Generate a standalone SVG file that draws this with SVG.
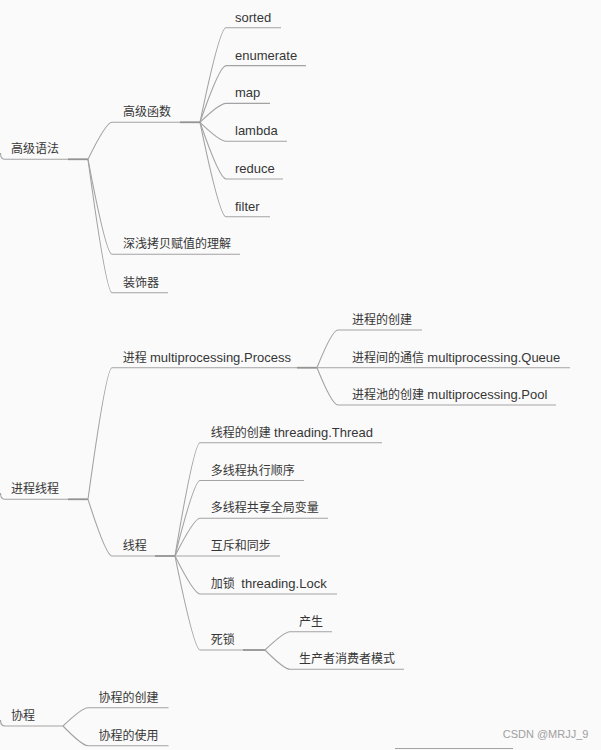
<svg xmlns="http://www.w3.org/2000/svg" width="601" height="750" viewBox="0 0 601 750">
<style>
  text { font-family: "Liberation Sans", "Noto Sans CJK SC", sans-serif; font-size: 12px; fill: #363636; white-space: pre; }
  .en { font-size: 13px; }
  .wm { font-size: 11px; fill: #a0a0a0; }
  .ln { fill: none; stroke: #a3a3a3; stroke-width: 1.1; }
  .th { fill: none; stroke: #939393; stroke-width: 1.7; }
</style>
<rect width="601" height="750" fill="#fafafa"/>
<g id="connectors">
  <!-- 高级语法 -->
  <path class="ln" d="M0.5,153 Q0.5,159.3 5,159.3 H88"/>
  <path class="th" d="M68,159.3 H88"/>
  <path class="ln" d="M88,159.3 Q106,122.3 112,122.3 H200"/>
  <path class="ln" d="M88,159.3 Q106,254.3 112,254.3 H240"/>
  <path class="ln" d="M88,159.3 Q106,292.7 112,292.7 H168"/>
  <path class="th" d="M180,122.3 H200"/>
  <path class="ln" d="M200,122.3 Q219.5,27.7 226,27.7 H281"/>
  <path class="ln" d="M200,122.3 Q219.5,65.6 226,65.6 H306"/>
  <path class="ln" d="M200,122.3 Q219.5,103.4 226,103.4 H270"/>
  <path class="ln" d="M200,122.3 Q219.5,141.2 226,141.2 H287"/>
  <path class="ln" d="M200,122.3 Q219.5,179 226,179 H283"/>
  <path class="ln" d="M200,122.3 Q219.5,216.8 226,216.8 H270"/>
  <!-- 进程线程 -->
  <path class="ln" d="M0.5,493 Q0.5,499.3 5,499.3 H88"/>
  <path class="th" d="M68,499.3 H88"/>
  <path class="ln" d="M88,499.3 Q106,367.7 112,367.7 H317"/>
  <path class="ln" d="M88,499.3 Q106,556 112,556 H175"/>
  <path class="th" d="M297,367.7 H317"/>
  <path class="ln" d="M317,367.7 Q332,330 338,330 H422"/>
  <path class="ln" d="M317,367.7 H570"/>
  <path class="ln" d="M317,367.7 Q332,405 338,405 H556"/>
  <path class="th" d="M155,556 H175"/>
  <path class="ln" d="M175,556 Q194,442.7 200,442.7 H382"/>
  <path class="ln" d="M175,556 Q194,480.5 200,480.5 H304"/>
  <path class="ln" d="M175,556 Q194,518.3 200,518.3 H328"/>
  <path class="ln" d="M175,556 H280"/>
  <path class="ln" d="M175,556 Q194,594 200,594 H337"/>
  <path class="ln" d="M175,556 Q194,650 200,650 H265"/>
  <path class="th" d="M243,650 H265"/>
  <path class="ln" d="M265,650 Q284,631.7 290,631.7 H332"/>
  <path class="ln" d="M265,650 Q284,669.3 290,669.3 H404"/>
  <!-- 协程 -->
  <path class="ln" d="M0.5,720 Q0.5,726 5,726 H63"/>
  <path class="ln" d="M63,726 Q82,707.7 88,707.7 H168.6"/>
  <path class="ln" d="M63,726 Q82,745.7 88,745.7 H168.6"/>
  <path class="ln" d="M395,748.5 H513"/>
</g>
<g id="n-gaojiyufa"><text x="11" y="153.3">高级语法</text></g>
<g id="n-gaojihanshu"><text x="123" y="116.3">高级函数</text></g>
<g id="n-sorted"><text class="en" x="235" y="21.7">sorted</text></g>
<g id="n-enumerate"><text class="en" x="235" y="59.6">enumerate</text></g>
<g id="n-map"><text class="en" x="235" y="97.4">map</text></g>
<g id="n-lambda"><text class="en" x="235" y="135.2">lambda</text></g>
<g id="n-reduce"><text class="en" x="235" y="173">reduce</text></g>
<g id="n-filter"><text class="en" x="235" y="210.8">filter</text></g>
<g id="n-copy"><text x="123" y="248.3">深浅拷贝赋值的理解</text></g>
<g id="n-decorator"><text x="123" y="286.7">装饰器</text></g>

<g id="n-jinchengxiancheng"><text x="11" y="493.3">进程线程</text></g>
<g id="n-process"><text x="122.7" y="361.7">进程 <tspan class="en">multiprocessing.Process</tspan></text></g>
<g id="n-process-create"><text x="352" y="324">进程的创建</text></g>
<g id="n-process-queue"><text x="352" y="361.7">进程间的通信 <tspan class="en">multiprocessing.Queue</tspan></text></g>
<g id="n-process-pool"><text x="352" y="399">进程池的创建 <tspan class="en">multiprocessing.Pool</tspan></text></g>
<g id="n-thread"><text x="122.7" y="550">线程</text></g>
<g id="n-thread-create"><text x="210.7" y="436.7">线程的创建 <tspan class="en">threading.Thread</tspan></text></g>
<g id="n-thread-order"><text x="210.7" y="474.5">多线程执行顺序</text></g>
<g id="n-thread-global"><text x="210.7" y="512.3">多线程共享全局变量</text></g>
<g id="n-thread-sync"><text x="210.7" y="550">互斥和同步</text></g>
<g id="n-thread-lock"><text x="210.7" y="588">加锁  <tspan class="en">threading.Lock</tspan></text></g>
<g id="n-deadlock"><text x="210.7" y="644">死锁</text></g>
<g id="n-deadlock-cause"><text x="299" y="625.7">产生</text></g>
<g id="n-deadlock-pc"><text x="299" y="663.3">生产者消费者模式</text></g>

<g id="n-xiecheng"><text x="11" y="720">协程</text></g>
<g id="n-xiecheng-create"><text x="98.5" y="701.7">协程的创建</text></g>
<g id="n-xiecheng-use"><text x="98.5" y="739.7">协程的使用</text></g>

<text class="wm" x="502.7" y="738">CSDN @MRJJ_9</text>
</svg>
